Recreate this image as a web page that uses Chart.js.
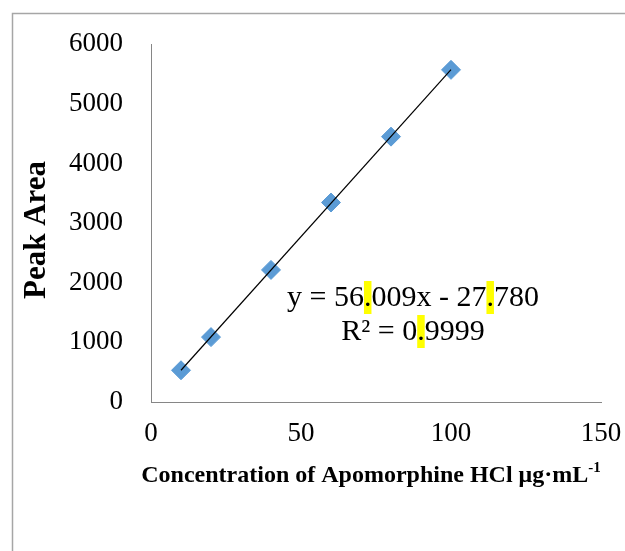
<!DOCTYPE html>
<html lang="en">
<head>
<meta charset="UTF-8">
<title>Apomorphine HCl calibration</title>
<script src="https://cdn.jsdelivr.net/npm/chart.js"></script>
<style>
  body { margin: 0; background: #fff; }
</style>
</head>
<body>
<canvas id="calChart" width="625" height="551"></canvas>
<script>
// data
const concentrations = [10, 20, 40, 60, 80, 100];
const peakAreas = [532, 1088, 2215, 3345, 4450, 5570];
const trendX = [10, 100];
const trendY = [532, 5573];
const xTicks = [0, 50, 100, 150];
const yTicks = [0, 1000, 2000, 3000, 4000, 5000, 6000];
const eqLines = ['y = 56.009x - 27.780', 'R² = 0.9999'];
const xTitle = 'Concentration of Apomorphine HCl μg·mL';
const xTitleSup = '-1';
const yTitle = 'Peak Area';

const SERIF = '"Liberation Serif", "Times New Roman", serif';

const decor = {
  id: 'decor',
  beforeDraw(c) {
    const ctx = c.ctx;
    ctx.save();
    ctx.strokeStyle = '#a6a6a6';
    ctx.lineWidth = 1.5;
    ctx.strokeRect(12.5, 13.5, 700, 700);
    ctx.restore();
  },
  afterDraw(c) {
    const ctx = c.ctx;
    ctx.save();
    ctx.fillStyle = '#000';
    ctx.textBaseline = 'alphabetic';
    ctx.textAlign = 'left';

    // x axis title with superscript
    ctx.font = 'bold 24px ' + SERIF;
    const w1 = ctx.measureText(xTitle).width;
    ctx.font = 'bold 15px ' + SERIF;
    const w2 = ctx.measureText(xTitleSup).width;
    const sx = 371 - (w1 + w2) / 2;
    ctx.font = 'bold 24px ' + SERIF;
    ctx.fillText(xTitle, sx, 482);
    ctx.font = 'bold 15px ' + SERIF;
    ctx.fillText(xTitleSup, sx + w1, 472);

    // trendline equation, the decimal points are highlighted
    ctx.font = '30px ' + SERIF;
    const baselines = [306, 340];
    eqLines.forEach((line, k) => {
      const lw = ctx.measureText(line).width;
      const lx = 413 - lw / 2;
      for (let i = 0; i < line.length; i++) {
        if (line[i] === '.') {
          const px = lx + ctx.measureText(line.slice(0, i)).width;
          const dw = ctx.measureText('.').width;
          ctx.fillStyle = '#ffff00';
          ctx.fillRect(px, baselines[k] - 25, dw, 33);
        }
      }
      ctx.fillStyle = '#000';
      ctx.fillText(line, lx, baselines[k]);
    });

    // y axis title
    ctx.translate(37, 230);
    ctx.rotate(-Math.PI / 2);
    ctx.font = 'bold 31px ' + SERIF;
    ctx.textAlign = 'center';
    ctx.textBaseline = 'middle';
    ctx.fillText(yTitle, 0, 0);
    ctx.restore();
  }
};

new Chart(document.getElementById('calChart'), {
  type: 'scatter',
  data: {
    datasets: [
      {
        type: 'line',
        data: trendX.map((x, i) => ({ x: x, y: trendY[i] })),
        borderColor: '#000',
        borderWidth: 1.2,
        pointRadius: 0,
        fill: false,
        order: 0
      },
      {
        data: concentrations.map((x, i) => ({ x: x, y: peakAreas[i] })),
        pointStyle: 'rectRot',
        pointRadius: 9.5,
        backgroundColor: '#5b9bd5',
        borderColor: '#5b9bd5',
        borderWidth: 1,
        order: 1
      }
    ]
  },
  options: {
    responsive: false,
    animation: false,
    layout: { padding: { left: 12, top: 43, right: 24, bottom: 0 } },
    plugins: { legend: { display: false }, tooltip: { enabled: false } },
    scales: {
      x: {
        type: 'linear',
        min: xTicks[0],
        max: xTicks[xTicks.length - 1],
        ticks: {
          stepSize: xTicks[1] - xTicks[0],
          padding: 16,
          color: '#000',
          font: { family: SERIF, size: 27 },
          callback: v => String(v)
        },
        grid: { display: false, drawTicks: false },
        border: { display: true, color: '#868686', width: 1 },
        afterFit(s) {
          s.height = 149;
          s.paddingLeft = 0;
          s.paddingRight = 0;
        }
      },
      y: {
        min: yTicks[0],
        max: yTicks[yTicks.length - 1],
        ticks: {
          stepSize: yTicks[1] - yTicks[0],
          padding: 28,
          color: '#000',
          font: { family: SERIF, size: 27 },
          callback: v => String(v)
        },
        grid: { display: false, drawTicks: false },
        border: { display: true, color: '#868686', width: 1 },
        afterFit(s) { s.width = 139; }
      }
    }
  },
  plugins: [decor]
});
</script>
</body>
</html>
